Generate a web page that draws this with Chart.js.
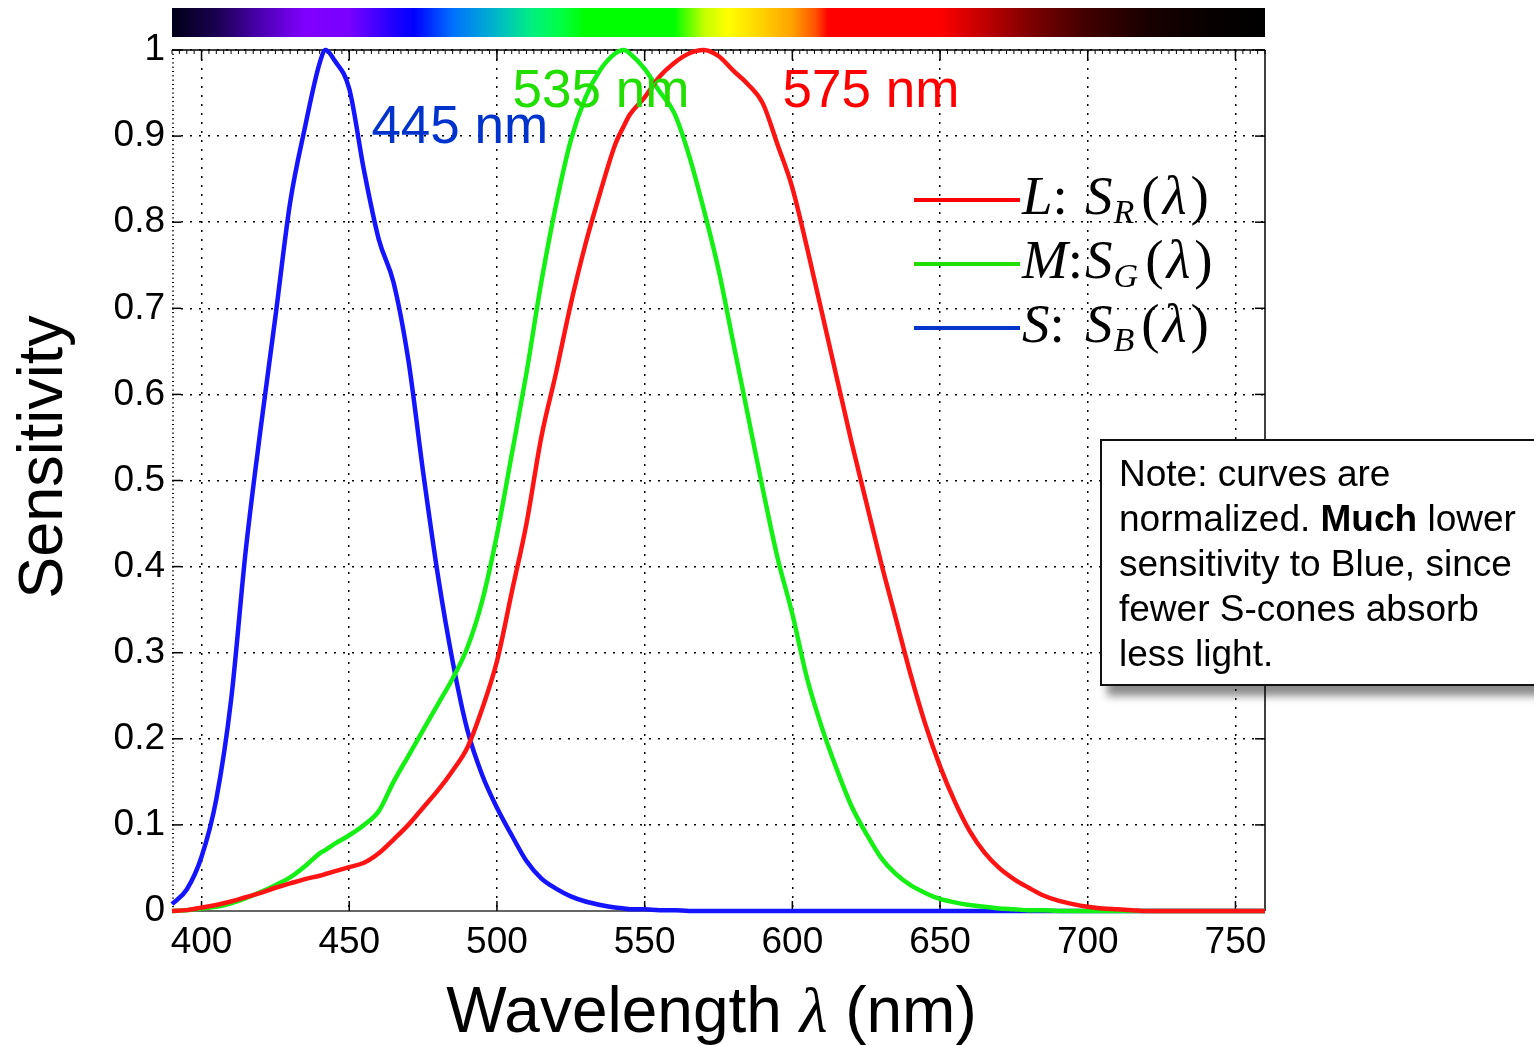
<!DOCTYPE html>
<html>
<head>
<meta charset="utf-8">
<script src="https://cdn.jsdelivr.net/npm/chart.js@4.4.1/dist/chart.umd.min.js"></script>
<style>
body { margin: 0; overflow: hidden; background: #fff; }
#wrap { position: relative; width: 1534px; height: 1045px; overflow: hidden; }
.tratto { position: absolute; left: 914px; width: 106px; height: 4px; }
.leg { position: absolute; left: 1022px; font: 55px "Liberation Serif", serif; line-height: 55px; white-space: nowrap; color: #000; }
.leg .sx { display: inline-block; min-width: 63px; }
.leg sub { font-size: 0.62em; vertical-align: -9px; line-height: 0; margin-left: 1px; margin-right: 7px; }
.leg .lam { margin: 0 4px 0 3px; }
#nota {
  position: absolute; left: 1100px; top: 439px; width: 480px; height: 247px;
  box-sizing: border-box; border: 2px solid #111; background: #fff;
  padding: 10px 0 0 17px; font: 37px Arial, "Liberation Sans", sans-serif; line-height: 45px;
  box-shadow: 7px 10px 8px rgba(0,0,0,0.45); white-space: nowrap;
}
</style>
</head>
<body>
<div id="wrap">
  <canvas id="grafico"></canvas>
  <div class="tratto" style="top:198px;background:#ff0000"></div>
  <div class="tratto" style="top:262px;background:#22dd00"></div>
  <div class="tratto" style="top:326px;background:#0033cc"></div>
  <div class="leg" style="top:168px"><span class="sx"><i>L</i>:</span><i>S</i><sub><i>R</i></sub>(<i class="lam">λ</i>)</div>
  <div class="leg" style="top:232px"><span class="sx"><i>M</i>:</span><i>S</i><sub><i>G</i></sub>(<i class="lam">λ</i>)</div>
  <div class="leg" style="top:296px"><span class="sx"><i>S</i>:</span><i>S</i><sub><i>B</i></sub>(<i class="lam">λ</i>)</div>
  <div id="nota">Note: curves are<br>normalized. <b>Much</b> lower<br>sensitivity to Blue, since<br>fewer S-cones absorb<br>less light.</div>
</div>
<script>
// dati
const lunghezze = [390,395,400,405,410,415,420,425,430,435,440,442,445,450,455,460,465,470,475,480,
  485,490,495,500,505,510,515,520,525,530,535,540,543,545,550,555,560,565,570,575,
  580,585,590,595,600,605,610,615,620,625,630,635,640,645,650,655,660,665,670,675,
  680,685,690,695,700,705,710,715,720,725,730,735,740,745,750,755,760];

const sensL = [0,0.001,0.004,0.007,0.011,0.016,0.021,0.027,0.032,0.037,0.041,0.043,0.046,0.051,0.056,0.067,0.083,0.1,0.12,0.14,
  0.163,0.19,0.235,0.29,0.37,0.45,0.55,0.625,0.705,0.775,0.835,0.89,0.912,0.925,0.945,0.969,0.985,0.996,1.0,0.993,
  0.976,0.96,0.938,0.89,0.84,0.77,0.695,0.62,0.545,0.475,0.405,0.34,0.275,0.217,0.168,0.127,0.093,0.068,0.05,0.037,
  0.027,0.018,0.012,0.008,0.005,0.003,0.002,0.001,0,0,0,0,0,0,0,0,0];

const sensM = [0,0.001,0.003,0.005,0.009,0.015,0.022,0.03,0.039,0.052,0.067,0.071,0.078,0.088,0.1,0.116,0.15,0.18,0.21,0.24,
  0.27,0.306,0.36,0.437,0.53,0.625,0.73,0.82,0.895,0.945,0.977,0.996,1.0,0.996,0.978,0.952,0.927,0.878,0.815,0.745,
  0.66,0.575,0.49,0.41,0.345,0.27,0.213,0.165,0.122,0.09,0.062,0.043,0.03,0.021,0.014,0.01,0.007,0.005,0.003,0.002,
  0.001,0.001,0,0,0,0,0,0,0,0,0,0,0,0,0,0,0];

const sensS = [0.008,0.025,0.063,0.13,0.245,0.42,0.56,0.69,0.823,0.91,0.985,1.0,0.988,0.955,0.86,0.78,0.73,0.64,0.51,0.39,
  0.29,0.21,0.158,0.12,0.088,0.058,0.038,0.026,0.017,0.011,0.007,0.004,0.003,0.002,0.002,0.001,0.001,0,0,0,
  0,0,0,0,0,0,0,0,0,0,0,0,0,0,0,0,0,0,0,0,
  0,0,0,0,0,0,0,0,0,0,0,0,0,0,0,0,0];

const xTicks = [400,450,500,550,600,650,700,750];
const yTicks = [0,0.1,0.2,0.3,0.4,0.5,0.6,0.7,0.8,0.9,1];

const etichette = [
  { testo: '445 nm', l: 457.5, v: 0.892, colore: '#0033cc' },
  { testo: '535 nm', l: 505.3, v: 0.934, colore: '#22dd00' },
  { testo: '575 nm', l: 596.7, v: 0.934, colore: '#ff0000' }
];

// colori dello spettro (barra in alto)
const spettro = [
  [390,'#000018'],[405,'#1a0050'],[420,'#4b00b0'],[435,'#8000ff'],[450,'#7a00ff'],[465,'#2000ff'],
  [472,'#0000ff'],[485,'#0070ff'],[500,'#00b8c8'],[512,'#00f080'],[522,'#00ff40'],[530,'#00ff00'],
  [560,'#00ff00'],[570,'#c0ff00'],[578,'#ffff00'],[590,'#ffd000'],[600,'#ffa000'],[608,'#ff5000'],
  [612,'#ff0000'],[650,'#ff0000'],[665,'#c00000'],[680,'#800000'],[700,'#400000'],[720,'#1a0000'],
  [740,'#080000'],[760,'#000000']
];

Chart.defaults.font.family = 'Arial, "Liberation Sans", sans-serif';
Chart.defaults.color = '#000';

function punti(valori) {
  return lunghezze.map((w, i) => ({ x: w, y: valori[i] }));
}

function linea(ctx, x1, y1, x2, y2) {
  ctx.beginPath(); ctx.moveTo(x1, y1); ctx.lineTo(x2, y2); ctx.stroke();
}

const cornice = {
  id: 'cornice',
  beforeDatasetsDraw(chart) {
    const { ctx, chartArea: a, scales: { x, y } } = chart;
    ctx.save();
    ctx.strokeStyle = '#000';
    ctx.lineWidth = 1.5;
    linea(ctx, a.left, a.top, a.right, a.top);
    linea(ctx, a.right, a.top, a.right, a.bottom);
    ctx.strokeStyle = '#666';
    ctx.lineWidth = 2;
    linea(ctx, a.left, a.bottom, a.right, a.bottom);
    ctx.strokeStyle = '#000';
    ctx.lineWidth = 1.5;
    xTicks.forEach(v => {
      const px = x.getPixelForValue(v);
      linea(ctx, px, a.bottom, px, a.bottom - 10);
      linea(ctx, px, a.top, px, a.top + 10);
    });
    yTicks.forEach(v => {
      const py = y.getPixelForValue(v);
      linea(ctx, a.left, py, a.left + 9, py);
      linea(ctx, a.right, py, a.right - 10, py);
    });
    // tacche minori
    ctx.lineWidth = 1;
    for (let i = 0; i <= 148; i++) {
      const px = x.getPixelForValue(390 + i * 2.5);
      linea(ctx, px, a.top, px, a.top + 4);
    }
    for (let i = 0; i <= 200; i++) {
      const py = y.getPixelForValue(i * 0.005);
      linea(ctx, a.left, py, a.left + 2, py);
    }
    ctx.restore();
  },
  afterDatasetsDraw(chart) {
    const { ctx, scales: { x, y } } = chart;
    ctx.save();
    ctx.font = '53px Arial, "Liberation Sans", sans-serif';
    ctx.textAlign = 'left';
    ctx.textBaseline = 'alphabetic';
    etichette.forEach(e => {
      ctx.fillStyle = e.colore;
      ctx.fillText(e.testo, x.getPixelForValue(e.l), y.getPixelForValue(e.v));
    });
    ctx.restore();
  },
  afterDraw(chart) {
    const { ctx, chartArea: a, scales: { x } } = chart;
    ctx.save();
    // barra spettro
    const x0 = x.getPixelForValue(390), x1 = x.getPixelForValue(760);
    const grad = ctx.createLinearGradient(x0, 0, x1, 0);
    spettro.forEach(s => grad.addColorStop((s[0] - 390) / 370, s[1]));
    ctx.fillStyle = grad;
    ctx.fillRect(a.left, 8, a.right - a.left, 29);

    // titolo asse y
    ctx.fillStyle = '#000';
    ctx.translate(62, 457);
    ctx.rotate(-Math.PI / 2);
    ctx.font = '63px Arial, "Liberation Sans", sans-serif';
    ctx.textAlign = 'center';
    ctx.textBaseline = 'alphabetic';
    ctx.fillText('Sensitivity', 0, 0);
    ctx.setTransform(1, 0, 0, 1, 0, 0);

    // titolo asse x
    const parti = [
      ['Wavelength ', '64px Arial, "Liberation Sans", sans-serif'],
      ['λ', 'italic 64px "Liberation Serif", serif'],
      [' (nm)', '64px Arial, "Liberation Sans", sans-serif']
    ];
    let tot = 0;
    parti.forEach(p => { ctx.font = p[1]; tot += ctx.measureText(p[0]).width; });
    let px = (a.left + a.right) / 2 - 7 - tot / 2;
    ctx.textAlign = 'left';
    parti.forEach(p => {
      ctx.font = p[1];
      ctx.fillText(p[0], px, 1032);
      px += ctx.measureText(p[0]).width;
    });
    ctx.restore();
  }
};

new Chart(document.getElementById('grafico'), {
  type: 'line',
  data: {
    datasets: [
      { label: 'L', data: punti(sensL), borderColor: '#ff1414', borderWidth: 4.5 },
      { label: 'M', data: punti(sensM), borderColor: '#14f014', borderWidth: 4.5 },
      { label: 'S', data: punti(sensS), borderColor: '#1414ff', borderWidth: 4.5 }
    ]
  },
  options: {
    responsive: true,
    maintainAspectRatio: false,
    animation: false,
    layout: { padding: { top: 50, right: 269, left: 0, bottom: 0 } },
    elements: {
      point: { radius: 0 },
      line: { cubicInterpolationMode: 'monotone' }
    },
    datasets: { line: { clip: false } },
    plugins: { legend: { display: false }, tooltip: { enabled: false } },
    scales: {
      x: {
        type: 'linear', min: 390, max: 760,
        afterBuildTicks: s => { s.ticks = xTicks.map(v => ({ value: v })); },
        afterFit: s => { s.height = 134; },
        ticks: { font: { size: 37 }, padding: 10, maxRotation: 0, callback: v => String(v) },
        grid: { color: '#000', lineWidth: 1.5, drawTicks: false },
        border: { display: false, dash: [2, 7] }
      },
      y: {
        min: 0, max: 1,
        afterBuildTicks: s => { s.ticks = yTicks.map(v => ({ value: v })); },
        afterFit: s => { s.width = 172; },
        ticks: { font: { size: 37 }, padding: 7, callback: v => String(v) },
        grid: { color: '#000', lineWidth: 1.5, drawTicks: false },
        border: { display: false, dash: [2, 7] }
      }
    }
  },
  plugins: [cornice]
});
</script>
</body>
</html>
